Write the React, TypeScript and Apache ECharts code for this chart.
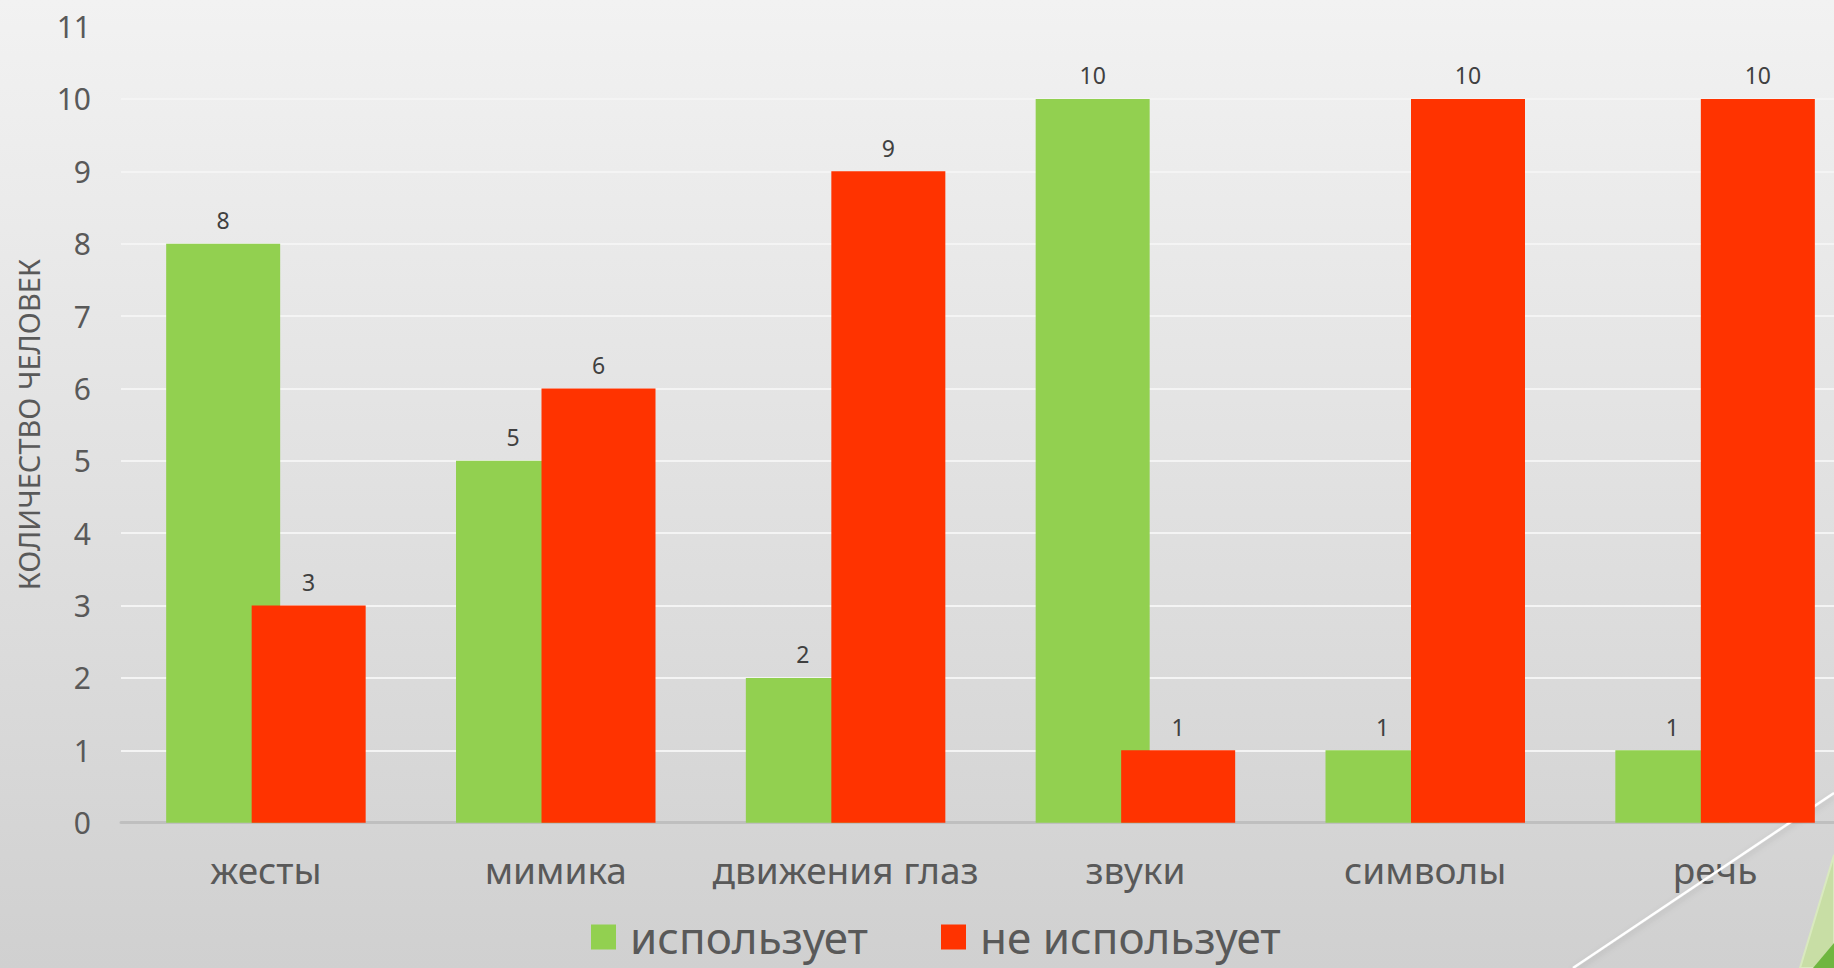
import React, { useEffect, useRef } from "react";
import * as echarts from "echarts";

const categories = ["жесты", "мимика", "движения глаз", "звуки", "символы", "речь"];
const usesValues = [8, 5, 2, 10, 1, 1];
const notUsesValues = [3, 6, 9, 1, 10, 10];
const seriesNames = ["использует", "не использует"];
const yAxisTitle = "КОЛИЧЕСТВО ЧЕЛОВЕК";

const FONT = "'Noto Sans', 'DejaVu Sans', sans-serif";

export default function App() {
  const ref = useRef<HTMLDivElement>(null);
  useEffect(() => {
    document.body.style.margin = "0";
    const chart = echarts.init(ref.current!, null, { renderer: "svg" });
    chart.setOption({
      animation: false,
      backgroundColor: {
        type: "linear",
        x: 0,
        y: 0,
        x2: 0,
        y2: 1,
        colorStops: [
          { offset: 0, color: "#f2f2f2" },
          { offset: 1, color: "#d0d0d0" },
        ],
      },
      textStyle: { fontFamily: FONT },
      grid: {
        left: 121,
        width: 1739,
        top: 26.6,
        height: 796.1,
        containLabel: false,
        outerBoundsMode: "none",
      },
      legend: {
        left: 586,
        top: 910,
        itemWidth: 25,
        itemHeight: 25,
        itemGap: 73,
        icon: "rect",
        textStyle: { fontSize: 44, lineHeight: 44, color: "#595959", fontFamily: FONT, padding: [0, 0, 0, 9] },
        data: seriesNames,
      },
      xAxis: {
        type: "category",
        data: categories,
        axisLine: { lineStyle: { color: "#bfbfbf", width: 3 } },
        axisTick: { show: false },
        axisLabel: { interval: 0, fontSize: 37, color: "#595959", margin: 28, fontFamily: FONT },
      },
      yAxis: {
        type: "value",
        min: 0,
        max: 11,
        interval: 1,
        name: yAxisTitle,
        nameLocation: "middle",
        nameRotate: 90,
        nameGap: 78,
        nameTextStyle: { fontSize: 29, color: "#595959", fontFamily: FONT },
        axisLine: { show: false },
        axisTick: { show: false },
        axisLabel: { fontSize: 30, color: "#595959", margin: 30, fontFamily: FONT },
        splitLine: { show: true, showMaxLine: false, lineStyle: { color: "#f4f4f4", width: 2 } },
      },
      graphic: [
        {
          type: "line",
          z: 1,
          shape: { x1: 1834, y1: 793, x2: 1573, y2: 968 },
          style: { stroke: "#ffffff", lineWidth: 2.5, shadowColor: "rgba(0,0,0,0.15)", shadowBlur: 6, shadowOffsetY: 3 },
        },
        {
          type: "polygon",
          z: 1,
          shape: { points: [[1834, 855], [1800, 968], [1834, 968]] },
          style: { fill: "#c8dea5", stroke: "#d9e9bf", lineWidth: 2 },
        },
        {
          type: "polygon",
          z: 1,
          shape: { points: [[1834, 943], [1813, 968], [1834, 968]] },
          style: { fill: "#6fb640" },
        },
      ],
      series: [
        {
          name: seriesNames[0],
          type: "bar",
          data: usesValues,
          barWidth: 114,
          barGap: "-25%",
          z: 3,
          itemStyle: { color: "#92d050" },
          label: { show: true, position: "top", distance: 12, fontSize: 23, color: "#404040", fontFamily: FONT },
        },
        {
          name: seriesNames[1],
          type: "bar",
          data: notUsesValues,
          barWidth: 114,
          barGap: "-25%",
          z: 3,
          itemStyle: { color: "#ff3300" },
          label: { show: true, position: "top", distance: 12, fontSize: 23, color: "#404040", fontFamily: FONT },
        },
      ],
    });
    return () => chart.dispose();
  }, []);
  return <div ref={ref} style={{ width: 1834, height: 968 }} />;
}
